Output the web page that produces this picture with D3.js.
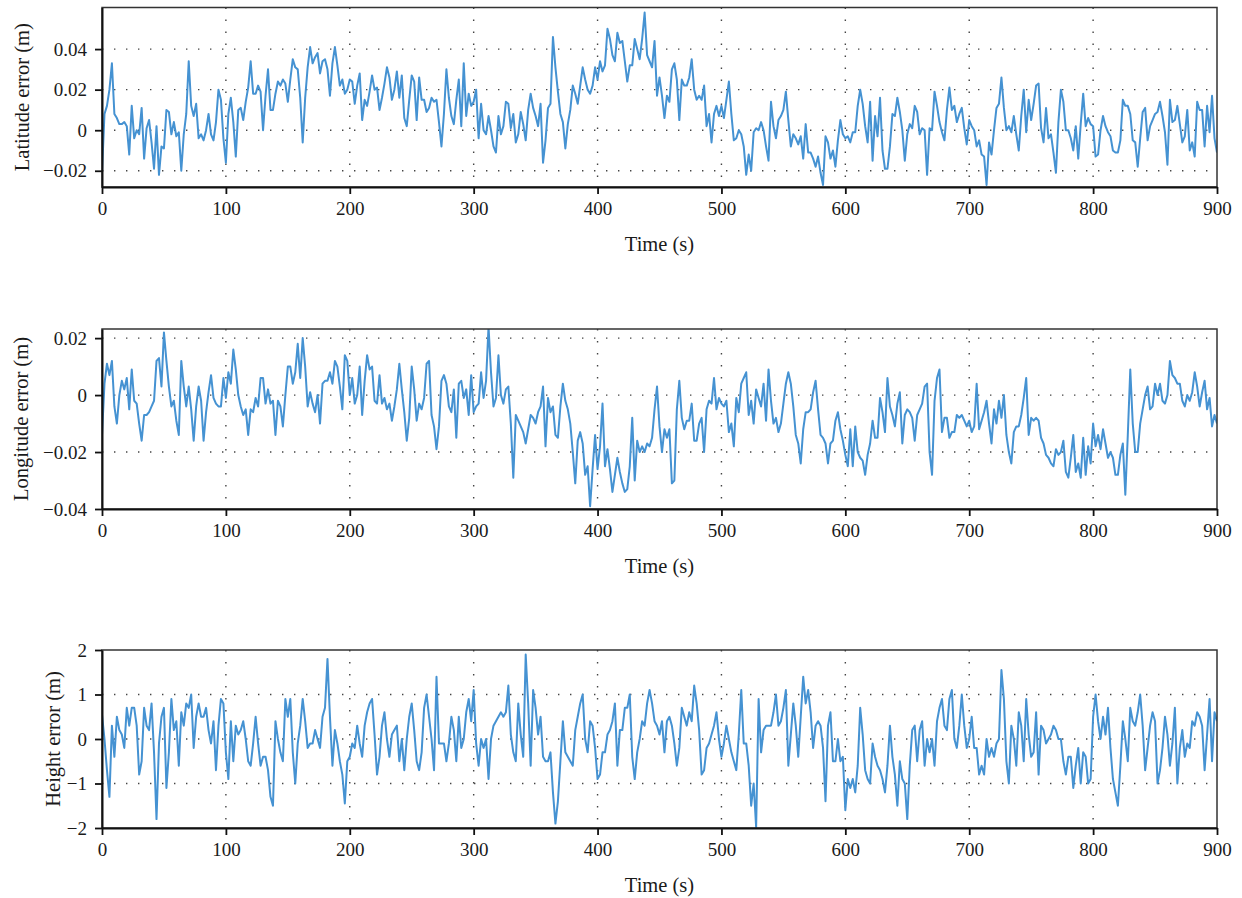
<!DOCTYPE html>
<html>
<head>
<meta charset="utf-8">
<script src="https://cdn.jsdelivr.net/npm/d3@7"></script>
<style>
  body { margin: 0; background: #fff; }
  svg { display: block; font-family: "Liberation Serif", "DejaVu Serif", serif; }
</style>
</head>
<body>
<svg id="chart" width="1242" height="898"></svg>
<script>
const timeStep = 2;

const latErr = [
  -0.021, 0.008, 0.012, 0.020, 0.033, 0.008, 0.006, 0.003, 0.003, 0.004,
  0.002, -0.012, 0.012, -0.004, 0.000, -0.002, 0.011, -0.014, 0.001, 0.005,
  -0.006, -0.019, 0.002, -0.022, -0.008, -0.009, 0.010, 0.009, -0.002, 0.004,
  -0.003, -0.001, -0.020, -0.002, 0.008, 0.034, 0.012, 0.007, 0.013, -0.004,
  -0.002, -0.005, 0.000, 0.008, -0.002, -0.005, 0.004, 0.020, 0.015, -0.004,
  -0.016, 0.008, 0.016, 0.004, -0.013, 0.010, 0.011, 0.005, 0.014, 0.021,
  0.034, 0.018, 0.018, 0.022, 0.019, 0.000, 0.017, 0.030, 0.010, 0.010,
  0.018, 0.024, 0.022, 0.025, 0.023, 0.014, 0.025, 0.035, 0.031, 0.030,
  0.016, -0.006, 0.016, 0.031, 0.041, 0.033, 0.036, 0.038, 0.028, 0.034,
  0.035, 0.030, 0.017, 0.033, 0.041, 0.032, 0.022, 0.025, 0.018, 0.020,
  0.025, 0.024, 0.013, 0.022, 0.028, 0.005, 0.015, 0.012, 0.019, 0.027,
  0.020, 0.021, 0.010, 0.016, 0.023, 0.031, 0.026, 0.015, 0.020, 0.029,
  0.016, 0.027, 0.006, 0.002, 0.015, 0.027, 0.024, 0.005, 0.026, 0.015,
  0.015, 0.009, 0.011, 0.016, 0.014, 0.015, 0.004, -0.008, 0.008, 0.030,
  0.016, 0.007, 0.003, 0.015, 0.025, 0.002, 0.033, 0.007, 0.018, 0.012,
  0.014,
  0.020, -0.004, 0.013, 0.000, -0.002, 0.007, 0.000, -0.008, -0.011, 0.007,
  -0.002, 0.002, 0.014, 0.013, 0.001, 0.008, -0.006, -0.002, 0.009, 0.003,
  -0.005, 0.010, 0.018, 0.011, 0.007, 0.002, 0.013, -0.016, -0.005, 0.011,
  0.013, 0.046, 0.031, 0.019, 0.008, 0.004, -0.009, 0.003, 0.010, 0.022,
  0.018, 0.013, 0.022, 0.031, 0.025, 0.020, 0.018, 0.022, 0.031, 0.025,
  0.034, 0.029, 0.032, 0.050, 0.045, 0.037, 0.034, 0.048, 0.043, 0.044,
  0.034, 0.024, 0.032, 0.032, 0.045, 0.040, 0.035, 0.045, 0.058, 0.037,
  0.034, 0.031, 0.044, 0.017, 0.026, 0.017, 0.006, 0.017, 0.014, 0.030,
  0.033, 0.025, 0.005, 0.025, 0.022, 0.022, 0.026, 0.035, 0.020, 0.015,
  0.017, 0.015, 0.022, 0.002, 0.008, -0.006, 0.008, 0.012, 0.007, 0.012,
  0.006, 0.015, 0.024, 0.008, -0.005, -0.004, 0.000, -0.002, -0.008, -0.022,
  -0.012, -0.020, -0.001, 0.001, 0.000, 0.004, 0.000, -0.008, -0.015, 0.014,
  0.002, -0.004, 0.005, 0.007, 0.010, 0.019, 0.005, -0.008, -0.002, -0.004,
  -0.007, -0.003, -0.014, 0.003, -0.011, -0.011, -0.014, -0.018, -0.013, -0.021,
  -0.027, -0.003, -0.006, -0.014, -0.010, -0.018, -0.005, 0.005, -0.002, -0.004,
  -0.003, -0.006, -0.001, -0.001, 0.012, 0.020, 0.013, 0.002, -0.006, 0.014,
  -0.015, 0.007, -0.003, 0.016, -0.010, -0.019, -0.019, -0.008, 0.008, 0.007,
  0.016, 0.009, 0.000, -0.015, -0.002, 0.003, 0.001, 0.012, 0.009, -0.002,
  0.001, 0.000, -0.022, 0.001, 0.000, 0.019, 0.012, 0.004, -0.001, -0.005,
  0.010, 0.021, 0.010, 0.012, 0.004, 0.008, 0.011, 0.001, -0.007, 0.005,
  0.002, 0.000, -0.008, -0.005, -0.012, -0.013, -0.027, -0.006, -0.012, 0.000,
  0.011, 0.013, 0.026, 0.011, 0.000, 0.002, -0.001, 0.007, -0.002, -0.010,
  0.007, 0.020, -0.001, 0.015, 0.005, 0.013, 0.022, 0.023, 0.001, -0.006,
  0.011, -0.004, -0.002, -0.011, -0.021, 0.004, 0.020, 0.014, 0.000, 0.000,
  -0.004, -0.010, 0.002, -0.014, 0.003, 0.018, 0.002, 0.006, 0.003, 0.002,
  -0.013, -0.012, 0.000, 0.007, 0.002, -0.001, -0.003, -0.010, -0.011, -0.011,
  -0.005, 0.015, 0.012, 0.012, 0.008, -0.005, -0.006, -0.018, -0.004, 0.009,
  0.011, -0.005, 0.002, 0.005, 0.008, 0.009, 0.014, 0.007, -0.001, -0.017,
  0.015, 0.004, 0.005, 0.012, 0.003, -0.006, -0.003, 0.010, -0.010, -0.006,
  -0.013, 0.014, 0.010, 0.010, -0.008, 0.012, -0.001, 0.017, -0.004, -0.011
];

const lonErr = [
  -0.014, 0.004, 0.011, 0.007, 0.012, -0.004, -0.010, 0.000, 0.005, 0.002,
  0.006, -0.005, 0.009, -0.002, -0.003, -0.010, -0.016, -0.007, -0.007, -0.006,
  -0.004, -0.002, 0.012, 0.013, 0.003, 0.022, 0.012, 0.003, -0.004, -0.002,
  -0.009, -0.014, 0.012, 0.003, -0.004, 0.003, -0.005, -0.016, -0.004, 0.003,
  -0.002, -0.016, -0.006, 0.001, 0.007, -0.001, -0.003, -0.004, -0.004, 0.006,
  -0.001, 0.008, 0.004, 0.016, 0.009, 0.000, -0.004, -0.007, -0.005, -0.014,
  -0.005, -0.006, -0.001, -0.004, 0.006, 0.006, -0.003, 0.002, -0.003, -0.002,
  -0.014, -0.002, -0.004, -0.011, 0.000, 0.010, 0.010, 0.004, 0.008, 0.018,
  0.006, 0.020, 0.010, -0.004, 0.001, -0.003, -0.006, 0.000, -0.010, 0.004,
  0.005, 0.005, 0.008, 0.004, 0.012, 0.010, 0.003, -0.005, 0.014, 0.012,
  0.000, 0.006, -0.003, 0.000, 0.010, -0.007, 0.005, 0.014, 0.009, 0.010,
  -0.002, -0.003, 0.007, -0.003, -0.001, -0.005, -0.003, -0.009, -0.004, 0.002,
  0.011, 0.002, -0.006, -0.016, -0.008, 0.010, 0.002, -0.009, -0.003, -0.005,
  -0.001, 0.011, 0.012, -0.007, -0.011, -0.019, -0.011, 0.005, 0.007, 0.004,
  -0.004, -0.006, 0.002, -0.015, 0.004, 0.005, -0.001, 0.002, -0.007, 0.007,
  -0.006,
  -0.004, -0.003, 0.008, -0.001, 0.005, 0.024, 0.008, -0.004, -0.001, 0.014,
  0.000, -0.003, 0.002, 0.003, -0.010, -0.029, -0.007, -0.009, -0.011, -0.013,
  -0.017, -0.012, -0.007, -0.008, -0.010, -0.006, -0.004, 0.003, -0.018, -0.001,
  -0.006, -0.004, -0.014, -0.015, -0.004, 0.004, -0.002, -0.005, -0.010, -0.020,
  -0.031, -0.016, -0.013, -0.017, -0.028, -0.025, -0.039, -0.026, -0.014, -0.026,
  -0.018, -0.003, -0.025, -0.019, -0.026, -0.034, -0.028, -0.022, -0.027, -0.031,
  -0.034, -0.033, -0.025, -0.008, -0.030, -0.016, -0.020, -0.018, -0.020, -0.017,
  -0.018, -0.015, -0.005, 0.003, -0.011, -0.020, -0.012, -0.015, -0.012, -0.031,
  -0.030, -0.005, 0.005, -0.008, -0.012, -0.009, -0.009, -0.003, -0.016, -0.016,
  -0.010, -0.008, -0.020, -0.005, -0.002, -0.003, 0.006, -0.005, -0.001, -0.003,
  -0.004, -0.002, -0.013, -0.010, -0.018, -0.001, -0.006, 0.004, 0.006, 0.008,
  -0.007, -0.002, -0.010, 0.002, -0.001, -0.004, 0.004, -0.009, 0.009, -0.002,
  -0.010, -0.008, -0.013, -0.010, -0.003, 0.004, 0.008, 0.004, -0.004, -0.014,
  -0.017, -0.024, -0.012, -0.006, -0.006, -0.005, 0.001, 0.005, -0.005, -0.014,
  -0.015, -0.017, -0.024, -0.017, -0.016, -0.009, -0.006, -0.012, -0.016, -0.021,
  -0.025, -0.012, -0.025, -0.011, -0.020, -0.022, -0.023, -0.028, -0.021, -0.017,
  -0.009, -0.015, -0.015, -0.001, -0.006, -0.013, 0.006, -0.004, -0.007, -0.011,
  -0.003, 0.001, -0.017, -0.007, -0.005, -0.006, -0.008, -0.016, -0.007, -0.005,
  -0.003, 0.003, 0.004, -0.020, -0.028, -0.002, 0.006, 0.009, -0.013, -0.008,
  -0.008, -0.015, -0.013, -0.013, -0.007, -0.008, -0.007, -0.009, -0.011, -0.009,
  -0.013, -0.011, 0.004, -0.012, -0.009, -0.006, -0.002, -0.010, -0.017, -0.005,
  -0.010, -0.002, -0.008, 0.000, -0.014, -0.020, -0.024, -0.013, -0.011, -0.011,
  -0.007, -0.001, 0.006, -0.014, -0.008, -0.009, -0.008, -0.009, -0.015, -0.017,
  -0.021, -0.022, -0.024, -0.025, -0.019, -0.021, -0.020, -0.016, -0.027, -0.029,
  -0.022, -0.014, -0.027, -0.024, -0.029, -0.015, -0.028, -0.018, -0.024, -0.010,
  -0.018, -0.014, -0.019, -0.012, -0.017, -0.022, -0.020, -0.022, -0.028, -0.028,
  -0.021, -0.017, -0.035, -0.014, 0.009, -0.010, -0.020, -0.020, -0.010, -0.005,
  0.000, 0.003, -0.005, -0.004, 0.004, 0.000, 0.004, -0.002, -0.003, 0.000,
  0.012, 0.007, 0.006, 0.004, 0.004, -0.002, -0.004, 0.000, -0.002, 0.001,
  0.008, 0.003, -0.004, 0.001, 0.005, -0.005, -0.001, -0.011, -0.007, -0.010
];

const hgtErr = [
  0.55, 0.0, -0.7, -1.3, 0.3, -0.4, 0.5, 0.2, 0.1, -0.2,
  0.7, 0.3, 0.7, 0.7, 0.3, -0.8, -0.5, 0.7, 0.3, 0.2,
  0.8, -0.3, -1.8, -0.1, 0.5, 0.7, -1.1, -0.3, 0.9, 0.2,
  0.4, -0.6, 0.6, 0.3, 0.8, 0.7, 1.0, -0.2, 0.5, 0.8,
  0.5, 0.5, 0.7, 0.2, -0.1, 0.4, -0.7, 0.3, 0.9, 0.8,
  -0.3, -0.9, 0.4, -0.5, 0.3, 0.1, 0.2, 0.4, 0.0, -0.5,
  -0.6, -0.1, 0.5, -0.1, -0.6, -0.4, -0.4, -0.7, -1.3, -1.5,
  0.4, 0.0, -0.3, -0.5, 0.9, 0.5, 0.9, -0.3, -1.0, -0.1,
  0.3, 0.9, 0.4, -0.2, -0.1, -0.1, 0.2, 0.0, -0.2, 0.5,
  0.7, 1.8, 0.5, -0.6, 0.2, -0.1, -0.5, -0.8, -1.45, -0.5,
  -0.4, -0.1, -0.2, 0.3, -0.1, -0.4, 0.3, 0.6, 0.8, 0.9,
  0.1, -0.8, -0.4, 0.3, 0.6, 0.0, -0.4, 0.1, 0.2, 0.3,
  -0.5, 0.0, -0.7, 0.0, 0.5, 0.8, 0.2, -0.5, -0.7, -0.3,
  0.7, 1.0, 0.5, 0.0, -0.7, 1.4, -0.1, -0.1, -0.1, -0.5,
  -0.1, 0.5, 0.2, -0.5, 0.5, -0.2, 0.0, 0.6, 0.9, 0.4,
  1.1,
  -0.1, -0.6, 0.0, -0.2, 0.0, -0.9, 0.0, 0.3, 0.4, 0.5,
  0.6, 0.5, 0.6, 1.2, 0.1, -0.3, -0.5, 0.8, 0.1, -0.4,
  1.9, 0.8, -0.6, 1.1, 0.7, 0.1, 0.5, -0.4, -0.5, -0.5,
  -0.3, -1.2, -1.9, -1.4, -0.5, 0.4, -0.3, -0.4, -0.5, -0.6,
  0.2, 0.5, 0.8, 1.0, 0.0, -0.3, 0.4, 0.3, -0.2, -0.9,
  -0.8, -0.3, -0.3, 0.1, 0.2, 0.4, 0.8, -0.6, 0.2, 0.2,
  0.7, 0.7, 1.0, -0.4, -0.9, -0.3, 0.0, 0.4, 0.3, 0.8,
  1.1, 0.8, 0.4, 0.3, 0.1, 0.4, -0.3, 0.4, 0.5, 0.3,
  -0.1, -0.6, -0.2, 0.7, 0.5, 0.3, 0.6, 0.4, 1.2, 0.8,
  0.2, -0.8, -0.7, -0.2, -0.1, 0.1, 0.3, 0.6, 0.0, -0.4,
  -0.1, 0.3, 0.0, -0.3, -0.5, -0.7, 0.1, 1.1, -0.1, -0.1,
  -0.6, -1.5, -1.0, -1.98, 0.9, -0.3, 0.2, 0.3, 0.3, 0.3,
  0.6, 1.0, 0.3, 0.4, 0.7, 1.1, -0.6, 0.1, 0.8, 0.3,
  -0.4, 0.5, 1.4, 0.8, 1.1, 0.6, -0.2, 0.3, 0.4, 0.3,
  -0.2, -1.4, 0.3, 0.6, -0.5, -0.5, 0.0, -0.5, -0.4, -1.6,
  -0.9, -1.1, -0.9, -1.2, -0.6, 0.7, 0.1, -0.7, -0.9, -1.0,
  -0.1, -0.4, -0.6, -0.7, -0.9, -1.2, -0.6, 0.3, -0.4, -0.8,
  -1.5, -0.5, -0.9, -1.0, -1.8, -0.6, 0.2, 0.3, -0.5, 0.2,
  0.4, -0.6, 0.0, -0.3, 0.0, -0.6, 0.4, 0.7, 0.9, 0.3,
  0.2, 0.9, 1.1, 0.0, -0.2, 0.3, 1.0, 0.3, -0.2, 0.0,
  0.5, -0.2, -0.2, -0.8, -0.6, -0.8, 0.0, -0.4, -0.2, -0.4,
  -0.1, 0.0, 1.55, 0.9, -0.5, -1.0, 0.3, 0.0, -0.6, 0.6,
  0.3, -0.5, 0.9, 0.1, -0.4, -0.3, 0.6, -0.8, 0.3, 0.2,
  -0.1, 0.0, 0.1, 0.3, 0.2, 0.0, 0.0, -0.5, -0.8, -0.4,
  -0.4, -1.1, -0.6, -0.2, -1.0, -0.3, -0.4, -1.0, -0.9, 0.5,
  1.0, 0.4, 0.0, 0.5, 0.1, 0.7, -0.2, -0.9, -1.2, -1.5,
  -0.6, 0.4, 0.0, -0.5, 0.7, 0.4, 0.3, 0.6, 1.0, 0.3,
  -0.7, -0.2, 0.3, 0.6, 0.4, -1.0, -0.7, -0.2, 0.5, 0.1,
  -0.6, -0.1, 0.7, -1.0, -0.2, 0.2, -0.4, -0.1, -0.2, 0.4,
  0.3, 0.6, 0.5, 0.3, -0.7, 0.1, 0.9, -0.5, 0.6, 0.4
];

const xTicks = [0, 100, 200, 300, 400, 500, 600, 700, 800, 900];
const latTicks = [-0.02, 0, 0.02, 0.04];
const lonTicks = [-0.04, -0.02, 0, 0.02];
const hgtTicks = [-2, -1, 0, 1, 2];
const yLabels = ['Latitude error (m)', 'Longitude error (m)', 'Height error (m)'];
const xLabel = 'Time (s)';

// layout
const left = 102, right = 1217;
const lineColor = '#4592d2';
const fmt2 = d => d === 0 ? '0' : d3.format('.2f')(d);

const panels = [
  { values: latErr, ticks: latTicks, domain: [-0.028, 0.0605], top: 7.5, bottom: 187, labelX: 22, fmt: fmt2 },
  { values: lonErr, ticks: lonTicks, domain: [-0.04, 0.0232], top: 329, bottom: 509, labelX: 21, fmt: fmt2 },
  { values: hgtErr, ticks: hgtTicks, domain: [-2, 2], top: 650, bottom: 828, labelX: 53, fmt: d3.format('d') }
];

const svg = d3.select('#chart');
const x = d3.scaleLinear().domain([0, 900]).range([left, right]);

panels.forEach((p, i) => {
  const y = d3.scaleLinear().domain(p.domain).range([p.bottom, p.top]);
  const g = svg.append('g');

  // dotted grid
  const gridX = xTicks.filter(t => t > 0 && t < 900);
  const gridY = p.ticks.filter(t => t > p.domain[0] && t < p.domain[1]);
  g.selectAll('.gx').data(gridX).join('line')
    .attr('x1', d => x(d)).attr('x2', d => x(d))
    .attr('y1', p.top).attr('y2', p.bottom)
    .attr('stroke', '#444').attr('stroke-width', 1.4)
    .attr('stroke-dasharray', '1.4,10.6');
  g.selectAll('.gy').data(gridY).join('line')
    .attr('x1', left).attr('x2', right)
    .attr('y1', d => y(d)).attr('y2', d => y(d))
    .attr('stroke', '#444').attr('stroke-width', 1.4)
    .attr('stroke-dasharray', '1.4,10.6');

  // clip so spikes stay in the box
  svg.append('clipPath').attr('id', 'clip' + i)
    .append('rect').attr('x', left).attr('y', p.top)
    .attr('width', right - left).attr('height', p.bottom - p.top);

  const line = d3.line()
    .x((d, k) => x(k * timeStep))
    .y(d => y(d));

  g.append('path')
    .datum(p.values)
    .attr('clip-path', `url(#clip${i})`)
    .attr('fill', 'none')
    .attr('stroke', lineColor)
    .attr('stroke-width', 2)
    .attr('stroke-linejoin', 'round')
    .attr('d', line);

  // frame
  g.append('rect')
    .attr('x', left).attr('y', p.top)
    .attr('width', right - left).attr('height', p.bottom - p.top)
    .attr('fill', 'none').attr('stroke', '#333').attr('stroke-width', 1.5);

  // axes
  const ax = g.append('g')
    .attr('transform', `translate(0,${p.bottom})`)
    .call(d3.axisBottom(x).tickValues(xTicks).tickSize(7).tickSizeOuter(0).tickPadding(7.5).tickFormat(d3.format('d')));
  const ay = g.append('g')
    .attr('transform', `translate(${left},0)`)
    .call(d3.axisLeft(y).tickValues(p.ticks).tickSize(7).tickSizeOuter(0).tickPadding(8).tickFormat(p.fmt));

  [ax, ay].forEach(a => {
    a.select('.domain').attr('stroke', '#111').attr('stroke-width', 2);
    a.selectAll('.tick line').attr('stroke', '#111').attr('stroke-width', 1.8);
    a.selectAll('.tick text')
      .attr('fill', '#1a1a1a')
      .style('font-size', '19px')
      .style('font-family', '"Liberation Serif", "DejaVu Serif", serif');
  });

  // labels
  g.append('text')
    .attr('transform', `translate(${p.labelX},${(p.top + p.bottom) / 2}) rotate(-90)`)
    .attr('text-anchor', 'middle')
    .attr('dominant-baseline', 'central')
    .attr('fill', '#1a1a1a')
    .style('font-size', '20.5px')
    .text(yLabels[i]);

  g.append('text')
    .attr('x', (left + right) / 2)
    .attr('y', p.bottom + 64)
    .attr('text-anchor', 'middle')
    .attr('fill', '#1a1a1a')
    .style('font-size', '20.5px')
    .text(xLabel);
});
</script>
</body>
</html>
